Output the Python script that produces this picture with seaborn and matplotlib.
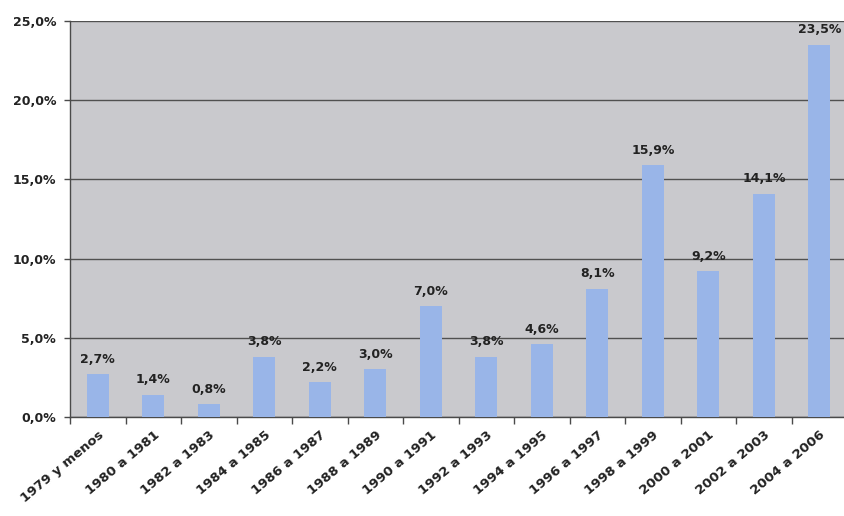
import matplotlib
matplotlib.use("Agg")
import matplotlib.pyplot as plt
import seaborn as sns
import pandas as pd
from matplotlib.ticker import FixedLocator

categories = ["1979 y menos", "1980 a 1981", "1982 a 1983", "1984 a 1985",
              "1986 a 1987", "1988 a 1989", "1990 a 1991", "1992 a 1993",
              "1994 a 1995", "1996 a 1997", "1998 a 1999", "2000 a 2001",
              "2002 a 2003", "2004 a 2006"]
values = [2.7, 1.4, 0.8, 3.8, 2.2, 3.0, 7.0, 3.8, 4.6, 8.1, 15.9, 9.2, 14.1, 23.5]
yticks = [0, 5, 10, 15, 20, 25]

sns.set_theme(style="white")
plt.rcParams['font.family'] = ['DejaVu Sans']

df = pd.DataFrame({"cat": categories, "val": values})

fig = plt.figure(figsize=(8.44, 5.16), dpi=100)
ax = fig.add_axes([70/844, 99/516, 776/844, 396/516])
ax.set_facecolor("#c9c9cd")

sns.barplot(data=df, x="cat", y="val", color="#99b5e8", width=0.4,
            saturation=1, ax=ax, zorder=3, edgecolor="none", linewidth=0)

ax.set_ylim(0, 25)
ax.set_xlim(-0.5, 13.48)
ax.set_yticks(yticks)
ax.set_yticklabels([f"{t:.1f}".replace(".", ",") + "%" for t in yticks],
                   fontsize=9, fontweight="bold", color="#222222")
for t in yticks:
    ax.axhline(t, color="#505050", lw=1.0, zorder=2)

ax.set_xticks(range(len(categories)))
ax.set_xticklabels(categories, rotation=40, ha="right", rotation_mode="anchor",
                   fontsize=9.5, fontweight="bold", color="#222222")
ax.tick_params(axis="x", which="major", length=0, pad=8)
ax.xaxis.set_minor_locator(FixedLocator([i - 0.5 for i in range(len(categories) + 1)]))
ax.tick_params(axis="x", which="minor", length=5, color="#4a4a4a", width=1, direction="out", bottom=True)
ax.tick_params(axis="y", length=4, color="#4a4a4a", width=1, direction="out", left=True, pad=6)

ax.set_xlabel("")
ax.set_ylabel("")
for s in ["top", "right"]:
    ax.spines[s].set_visible(False)
for s in ["left", "bottom"]:
    ax.spines[s].set_color("#4a4a4a")
    ax.spines[s].set_linewidth(1.0)

for i, v in enumerate(values):
    ax.annotate(f"{v:.1f}".replace(".", ",") + "%", (i, v), xytext=(0, 6),
                textcoords="offset points", ha="center", va="bottom",
                fontsize=9, fontweight="bold", color="#222222", zorder=4)

fig.savefig("out.png", dpi=100)
